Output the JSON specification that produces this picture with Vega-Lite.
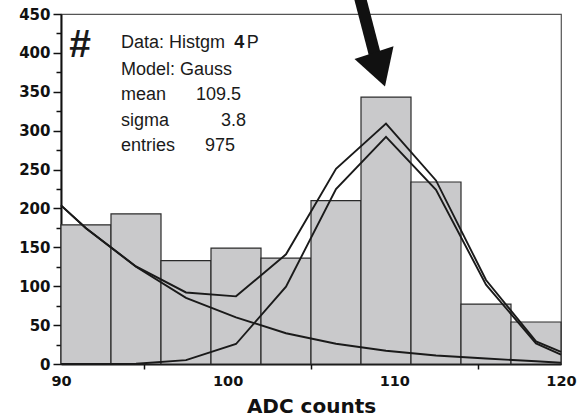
{
  "$schema": "https://vega.github.io/schema/vega-lite/v6.json",
  "width": 500,
  "height": 350,
  "autosize": {"type": "none"},
  "padding": {"left": 61, "top": 14, "right": 17, "bottom": 54},
  "background": "white",
  "config": {
    "view": {"stroke": "#555555", "strokeWidth": 1.2},
    "axis": {
      "domainColor": "#111111",
      "domainWidth": 2,
      "tickColor": "#111111",
      "tickWidth": 1.5,
      "labelColor": "#111111",
      "labelFont": "DejaVu Sans",
      "labelFontWeight": "bold",
      "labelFontSize": 14.5,
      "labelOverlap": false,
      "labelFlush": false,
      "grid": false,
      "zindex": 1
    }
  },
  "datasets": {
    "bins": [
      {"bin_start": 90, "bin_end": 93, "count": 179},
      {"bin_start": 93, "bin_end": 96, "count": 193},
      {"bin_start": 96, "bin_end": 99, "count": 133},
      {"bin_start": 99, "bin_end": 102, "count": 149},
      {"bin_start": 102, "bin_end": 105, "count": 136},
      {"bin_start": 105, "bin_end": 108, "count": 210},
      {"bin_start": 108, "bin_end": 111, "count": 343},
      {"bin_start": 111, "bin_end": 114, "count": 234},
      {"bin_start": 114, "bin_end": 117, "count": 77},
      {"bin_start": 117, "bin_end": 120, "count": 54}
    ],
    "curves": [
      {"curve": "background", "adc": 90, "value": 204},
      {"curve": "background", "adc": 91.5, "value": 174.5},
      {"curve": "background", "adc": 94.5, "value": 125},
      {"curve": "background", "adc": 97.5, "value": 85},
      {"curve": "background", "adc": 100.5, "value": 60},
      {"curve": "background", "adc": 103.5, "value": 39.5},
      {"curve": "background", "adc": 106.5, "value": 26},
      {"curve": "background", "adc": 109.5, "value": 17},
      {"curve": "background", "adc": 112.5, "value": 11},
      {"curve": "background", "adc": 115.5, "value": 7},
      {"curve": "background", "adc": 118.5, "value": 3.5},
      {"curve": "background", "adc": 120, "value": 1.7},
      {"curve": "gauss", "adc": 90, "value": 0},
      {"curve": "gauss", "adc": 91.5, "value": 0},
      {"curve": "gauss", "adc": 94.5, "value": 0.4},
      {"curve": "gauss", "adc": 97.5, "value": 5},
      {"curve": "gauss", "adc": 100.5, "value": 25.7},
      {"curve": "gauss", "adc": 103.5, "value": 99.4},
      {"curve": "gauss", "adc": 106.5, "value": 225},
      {"curve": "gauss", "adc": 109.5, "value": 292},
      {"curve": "gauss", "adc": 112.5, "value": 224},
      {"curve": "gauss", "adc": 115.5, "value": 102},
      {"curve": "gauss", "adc": 118.5, "value": 26.5},
      {"curve": "gauss", "adc": 120, "value": 12},
      {"curve": "total", "adc": 90, "value": 204},
      {"curve": "total", "adc": 91.5, "value": 174.5},
      {"curve": "total", "adc": 94.5, "value": 125.5},
      {"curve": "total", "adc": 97.5, "value": 92},
      {"curve": "total", "adc": 100.5, "value": 87},
      {"curve": "total", "adc": 103.5, "value": 141},
      {"curve": "total", "adc": 106.5, "value": 251},
      {"curve": "total", "adc": 109.5, "value": 309},
      {"curve": "total", "adc": 112.5, "value": 236},
      {"curve": "total", "adc": 115.5, "value": 108},
      {"curve": "total", "adc": 118.5, "value": 29},
      {"curve": "total", "adc": 120, "value": 15.5}
    ],
    "notes": [
      {"text": "Data: Histgm", "adc": 93.6, "count": 405.8},
      {"text": "P", "adc": 101.14, "count": 405.8},
      {"text": "Model: Gauss", "adc": 93.6, "count": 371.6},
      {"text": "mean", "adc": 93.6, "count": 339.4},
      {"text": "109.5", "adc": 98.1, "count": 339.4},
      {"text": "sigma", "adc": 93.6, "count": 306.0},
      {"text": "3.8", "adc": 99.6, "count": 306.0},
      {"text": "entries", "adc": 93.6, "count": 274.2},
      {"text": "975", "adc": 98.64, "count": 274.2}
    ]
  },
  "encoding": {
    "x": {
      "type": "quantitative",
      "scale": {"domain": [90, 120], "nice": false, "zero": false},
      "axis": {
        "title": "ADC counts",
        "titleFont": "DejaVu Sans",
        "titleFontWeight": "bold",
        "titleFontSize": 20,
        "titleColor": "#111111",
        "titlePadding": 9,
        "values": [90, 95, 100, 105, 110, 115, 120],
        "labelExpr": "datum.value % 10 === 0 ? datum.label : ''",
        "tickSize": 5,
        "tickOpacity": {"condition": {"test": "datum.value % 10 === 0", "value": 0}, "value": 1},
        "labelPadding": 5
      }
    },
    "y": {
      "type": "quantitative",
      "scale": {"domain": [0, 450], "nice": false},
      "axis": {
        "title": null,
        "values": [0, 25, 50, 75, 100, 125, 150, 175, 200, 225, 250, 275, 300, 325, 350, 375, 400, 425, 450],
        "labelExpr": "datum.value % 50 === 0 ? datum.label : ''",
        "tickSize": {"condition": {"test": "datum.value % 50 === 0", "value": 8}, "value": 5},
        "labelPadding": 3,
        "labelFontSize": 15
      }
    }
  },
  "layer": [
    {
      "data": {"name": "bins"},
      "mark": {"type": "rect", "fill": "#c9c9cb", "stroke": "#2a2a2a", "strokeWidth": 1.2},
      "encoding": {
        "x": {"field": "bin_start"},
        "x2": {"field": "bin_end"},
        "y": {"field": "count"},
        "y2": {"datum": 0}
      }
    },
    {
      "data": {"name": "curves"},
      "mark": {"type": "line", "stroke": "#1a1a1a", "strokeWidth": 1.9},
      "encoding": {
        "x": {"field": "adc"},
        "y": {"field": "value"},
        "detail": {"field": "curve"}
      }
    },
    {
      "data": {"name": "notes"},
      "mark": {"type": "text", "align": "left", "baseline": "alphabetic", "font": "Liberation Sans", "fontSize": 18, "color": "#1a1a1a"},
      "encoding": {
        "x": {"field": "adc"},
        "y": {"field": "count"},
        "text": {"field": "text"}
      }
    },
    {
      "data": {"values": [{"text": "4"}]},
      "mark": {"type": "text", "align": "left", "baseline": "alphabetic", "font": "Liberation Sans", "fontSize": 18, "fontWeight": "bold", "color": "#1a1a1a"},
      "encoding": {
        "x": {"datum": 100.4},
        "y": {"datum": 405.8},
        "text": {"field": "text"}
      }
    },
    {
      "data": {"values": [{"text": "#"}]},
      "mark": {"type": "text", "align": "left", "baseline": "alphabetic", "font": "Liberation Sans", "fontSize": 39, "fontWeight": "bold", "color": "#1a1a1a"},
      "encoding": {
        "x": {"datum": 90.5},
        "y": {"datum": 395},
        "text": {"field": "text"}
      }
    },
    {
      "data": {"values": [{"part": "shaft"}]},
      "mark": {"type": "rule", "stroke": "#111111", "strokeWidth": 12, "strokeCap": "butt", "clip": false},
      "encoding": {
        "x": {"datum": 107.88},
        "y": {"datum": 476},
        "x2": {"datum": 108.84},
        "y2": {"datum": 397}
      }
    },
    {
      "data": {"values": [{"part": "head"}]},
      "mark": {"type": "point", "shape": "triangle-down", "size": 1681, "angle": -18, "filled": true, "fill": "#111111", "strokeWidth": 0, "opacity": 1, "clip": false},
      "encoding": {
        "x": {"datum": 109.11},
        "y": {"datum": 378.6}
      }
    }
  ]
}
